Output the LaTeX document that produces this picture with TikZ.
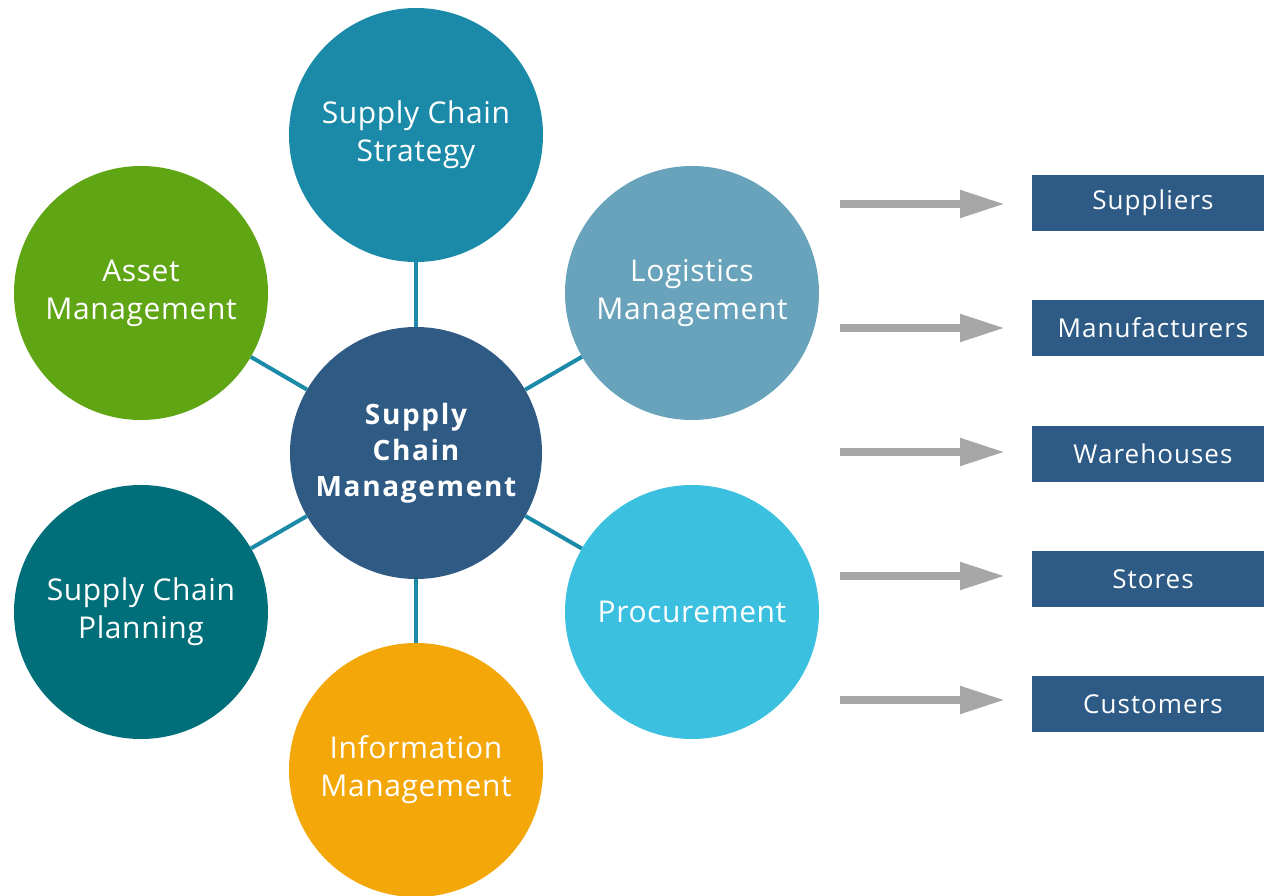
\documentclass[tikz,border=0pt]{standalone}
\usepackage{fontspec}
\setmainfont{Open Sans}
\newfontfamily\circfont[LetterSpace=2]{Open Sans}
\newfontfamily\hubfont[LetterSpace=6]{Open Sans}
\newfontfamily\boxfont[LetterSpace=4]{Open Sans}
\usetikzlibrary{arrows.meta}
\definecolor{cstrat}{HTML}{1B8AA8}
\definecolor{casset}{HTML}{5FA514}
\definecolor{clog}{HTML}{68A3BB}
\definecolor{cplan}{HTML}{006F7A}
\definecolor{cproc}{HTML}{3BC0E0}
\definecolor{cinfo}{HTML}{F4A708}
\definecolor{ccenter}{HTML}{2E5A84}
\definecolor{cbox}{HTML}{2E5B85}
\definecolor{carrow}{HTML}{A6A6A6}
\definecolor{clink}{HTML}{1A8AA8}
\tikzset{
  bubble/.style={circle, minimum size=254pt, inner sep=0pt, text=white, align=center,
    font=\circfont\fontsize{30}{38}\selectfont},
  hub/.style={circle, minimum size=252pt, inner sep=0pt, fill=ccenter, text=white, align=center,
    font=\hubfont\fontsize{28}{36}\selectfont\bfseries},
  link/.style={draw=clink, line width=4pt},
  tagbox/.style={rectangle, fill=cbox, text=white, minimum width=242pt, minimum height=56pt,
    inner sep=0pt, font=\boxfont\fontsize{26}{30}\selectfont},
  flow/.style={draw=carrow, line width=8pt, -{Triangle[length=45pt,width=26pt]}}
}
\begin{document}
\begin{tikzpicture}[x=1pt,y=-1pt]
\useasboundingbox (0,0) rectangle (1264,896);
\clip (0,0) rectangle (1264,896);
% nodes
\node[hub] (c) at (416,453) {Supply\\Chain\\Management};
\node[bubble, fill=cstrat] (s) at (416,135) {Supply Chain\\Strategy};
\node[bubble, fill=casset] (a) at (141,293) {Asset\\Management};
\node[bubble, fill=clog] (l) at (692,293) {Logistics\\Management};
\node[bubble, fill=cplan] (p) at (141,612) {Supply Chain\\Planning};
\node[bubble, fill=cproc] (r) at (692,612) {Procurement};
\node[bubble, fill=cinfo] (i) at (416,770) {Information\\Management};
% links
\draw[link] (c) -- (s);
\draw[link] (c) -- (a);
\draw[link] (c) -- (l);
\draw[link] (c) -- (p);
\draw[link] (c) -- (r);
\draw[link] (c) -- (i);
% boxes
\node[tagbox] (b1) at (1153,203) {Suppliers};
\node[tagbox] (b2) at (1153,328) {Manufacturers};
\node[tagbox] (b3) at (1153,454) {Warehouses};
\node[tagbox] (b4) at (1153,579) {Stores};
\node[tagbox] (b5) at (1153,704) {Customers};
% arrows
\coordinate (f1) at (840,204); \coordinate (t1) at (1005,204);
\coordinate (f2) at (840,328); \coordinate (t2) at (1005,328);
\coordinate (f3) at (840,452); \coordinate (t3) at (1005,452);
\coordinate (f4) at (840,576); \coordinate (t4) at (1005,576);
\coordinate (f5) at (840,700); \coordinate (t5) at (1005,700);
\draw[flow] (f1) -- (t1);
\draw[flow] (f2) -- (t2);
\draw[flow] (f3) -- (t3);
\draw[flow] (f4) -- (t4);
\draw[flow] (f5) -- (t5);
\end{tikzpicture}
\end{document}
